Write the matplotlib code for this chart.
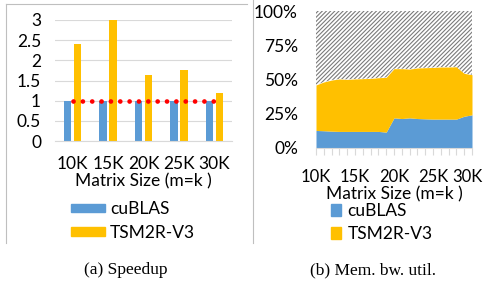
import numpy as np
import matplotlib
matplotlib.use('Agg')
from matplotlib import pyplot as plt
from matplotlib.patches import Patch
from matplotlib.lines import Line2D
from matplotlib.transforms import ScaledTranslation

# speedup chart (a)
sizes = ['10K', '15K', '20K', '25K', '30K']
speedup_cublas = [1, 1, 1, 1, 1]
speedup_tsm2r = [2.4, 3.0, 1.63, 1.77, 1.2]
baseline = [1, 1, 1, 1, 1]

# memory bandwidth utilisation chart (b), in percent, stacked
mem_sizes = [10, 11, 12, 13, 14, 15, 16, 17, 18, 19, 20,
             21, 22, 23, 24, 25, 26, 27, 28, 29, 30]
mem_cublas = [12.8, 12.6, 12.3, 12.1, 12.1, 12.1, 12.1, 12.1, 12.1, 11.6, 22.0,
              21.5, 22.0, 21.5, 21.3, 21.1, 21.1, 21.1, 21.1, 23.2, 24.2]
mem_tsm2r = [33.2, 35.6, 37.3, 38.3, 38.0, 38.3, 38.5, 38.7, 39.2, 40.0, 35.9,
             36.4, 35.6, 36.9, 37.3, 37.7, 38.0, 38.0, 38.2, 31.3, 29.3]
mem_ticks = [10, 15, 20, 25, 30]
mem_ticklabels = ['10K', '15K', '20K', '25K', '30K']
pct_ticks = [0, 25, 50, 75, 100]
pct_labels = ['0%', '25%', '50%', '75%', '100%']

series_names = ['cuBLAS', 'TSM2R-V3']
blue = '#5B9BD5'
orange = '#FFC000'
grid_c = '#D9D9D9'

plt.rcParams['font.family'] = ['Lato', 'DejaVu Sans']
plt.rcParams['hatch.color'] = '#7a7a7a'
plt.rcParams['hatch.linewidth'] = 0.8
fs = 12.5

W, H = 490, 287
fig = plt.figure(figsize=(W / 100, H / 100), dpi=100)

def box(x0, y0, x1, y1):
    # pixel box (top-left origin) -> figure fraction rect
    return [x0 / W, 1 - y1 / H, (x1 - x0) / W, (y1 - y0) / H]

# ---- (a) Speedup
ax1 = fig.add_axes(box(55, 20, 232, 141))
x = np.arange(len(sizes))
bw = 0.21
ax1.bar(x - 0.14, speedup_cublas, bw, color=blue, zorder=2)
ax1.bar(x + 0.14, speedup_tsm2r, bw, color=orange, zorder=2)
ax1.plot(x, baseline, color='#FF0000', lw=3.4, linestyle=(0, (0.01, 1.97)),
         dash_capstyle='round', zorder=3)
ax1.set_xlim(-0.5, len(sizes) - 0.5)
ax1.set_ylim(0, 3)
ax1.set_yticks(np.arange(0, 3.01, 0.5))
ax1.set_yticklabels(['0', '0.5', '1', '1.5', '2', '2.5', '3'])
ax1.yaxis.grid(True, color=grid_c, lw=0.8, zorder=0)
ax1.set_xticks(x)
ax1.set_xticklabels(sizes)
for s in ['top', 'right', 'left']:
    ax1.spines[s].set_visible(False)
ax1.spines['bottom'].set_color(grid_c)
ax1.tick_params(length=0, labelsize=fs, colors='black')
ax1.tick_params(axis='y', pad=10)
ax1.tick_params(axis='x', pad=11)
ax1.set_xlabel('Matrix Size (m=k )', fontsize=fs, labelpad=1)
ax1.legend([Patch(color=blue), Patch(color=orange)], series_names,
           loc='upper left', bbox_to_anchor=(71 / W, 1 - 201 / H),
           bbox_transform=fig.transFigure, frameon=False, fontsize=fs,
           handlelength=1.95, handleheight=0.35, handletextpad=0.3,
           labelspacing=0.45, borderpad=0, borderaxespad=0)

# ---- (b) Mem. bw. util.
ax2 = fig.add_axes(box(316, 11, 472, 148))
top = np.array(mem_cublas) + np.array(mem_tsm2r)
ax2.fill_between(mem_sizes, 0, mem_cublas, color=blue, lw=0)
ax2.fill_between(mem_sizes, mem_cublas, top, color=orange, lw=0)
ax2.fill_between(mem_sizes, top, 100, facecolor='white', edgecolor='#7a7a7a',
                 hatch='////////', lw=0)
ax2.set_xlim(mem_sizes[0], mem_sizes[-1])
ax2.set_ylim(0, 100)
ax2.set_yticks(pct_ticks)
ax2.set_yticklabels(pct_labels)
ax2.set_xticks(mem_sizes, minor=True)
ax2.set_xticks(mem_ticks)
ax2.set_xticklabels(mem_ticklabels)
for s in ['top', 'right', 'left']:
    ax2.spines[s].set_visible(False)
ax2.spines['bottom'].set_color(grid_c)
ax2.tick_params(axis='y', length=0, pad=13, labelsize=fs)
ax2.tick_params(axis='x', which='both', length=5, color=grid_c, width=0.8,
                labelsize=12, pad=10)
lbls = ax2.get_xticklabels()
lbls[-1].set_transform(lbls[-1].get_transform() +
                       ScaledTranslation(-5 / 100, 0, fig.dpi_scale_trans))
ax2.set_xlabel('Matrix Size (m=k )', fontsize=fs, labelpad=1)
ax2.legend([Patch(color=blue), Patch(color=orange)], series_names,
           loc='upper left', bbox_to_anchor=(331 / W, 1 - 203 / H),
           bbox_transform=fig.transFigure, frameon=False, fontsize=fs,
           handlelength=0.6, handleheight=0.7, handletextpad=0.35,
           labelspacing=0.4, borderpad=0, borderaxespad=0)

# frame lines around panel (a) and separator
frame_c = '#BFBFBF'
fig.add_artist(Line2D([6 / W, 6 / W], [1 - 4 / H, 1 - 243 / H],
                      transform=fig.transFigure, color=frame_c, lw=0.8))
fig.add_artist(Line2D([6 / W, 247 / W], [1 - 4 / H, 1 - 4 / H],
                      transform=fig.transFigure, color=frame_c, lw=0.8))
fig.add_artist(Line2D([253 / W, 253 / W], [1, 1 - 243 / H],
                      transform=fig.transFigure, color=frame_c, lw=0.8))

# captions
fig.text(126 / W, 1 - 270 / H, '(a) Speedup', ha='center', va='center',
         family='Liberation Serif', fontsize=12.5)
fig.text(373 / W, 1 - 270 / H, '(b) Mem. bw. util.', ha='center', va='center',
         family='Liberation Serif', fontsize=12.5)

fig.savefig('out.png', dpi=100)
